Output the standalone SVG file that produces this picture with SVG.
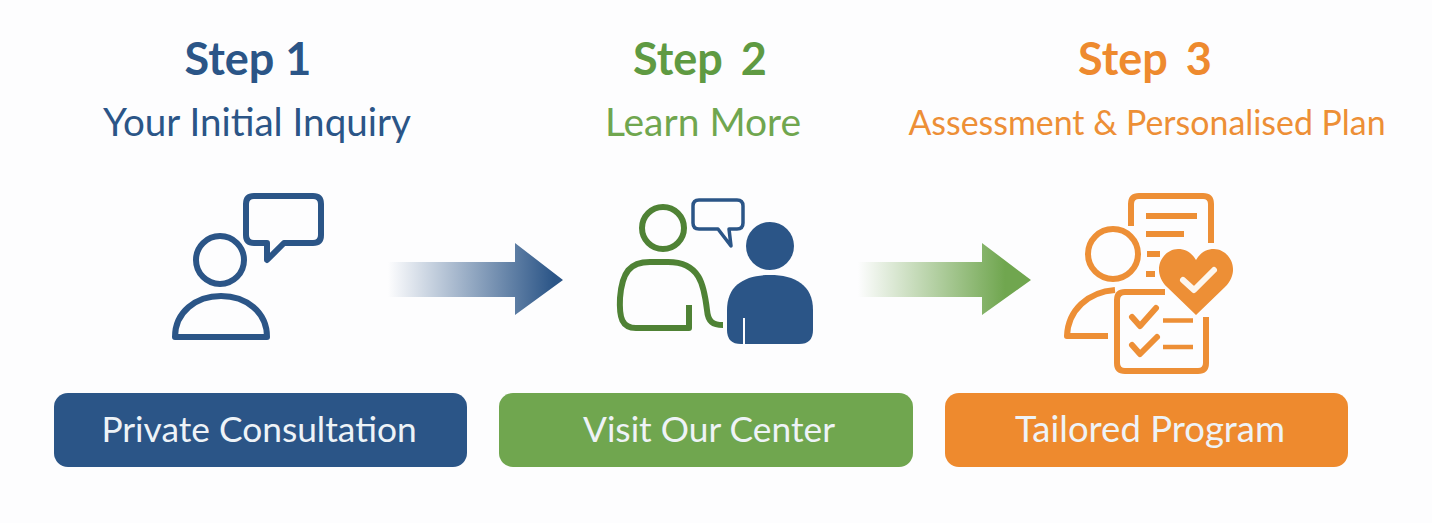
<svg xmlns="http://www.w3.org/2000/svg" width="1432" height="523" viewBox="0 0 1432 523">
<style>
.t{font-family:"Lato","Open Sans",sans-serif;text-anchor:middle}
.s{font-size:45px;font-weight:700}
.u{font-size:38.600px}
.b{font-size:35.300px;fill:#eef3f7}
.ol{fill:none;stroke-linejoin:round;stroke-linecap:round}
.blue{stroke:#2b5587}.green{stroke:#4f8235}.orange{stroke:#ed8f36}
</style>
<defs>
<linearGradient id="g1" gradientUnits="userSpaceOnUse" x1="388" x2="563" y1="0" y2="0"><stop offset="0" stop-color="#2b5587" stop-opacity="0"/><stop offset=".95" stop-color="#2b5587"/></linearGradient>
<linearGradient id="g2" gradientUnits="userSpaceOnUse" x1="858" x2="1031" y1="0" y2="0"><stop offset="0" stop-color="#70a64f" stop-opacity="0"/><stop offset=".85" stop-color="#70a64f"/></linearGradient>
</defs>
<rect width="1432" height="523" fill="#fdfdfe"/>
<g id="connectors">
<path d="M388 262H515V243L563 280L515 315V297H388Z" fill="url(#g1)"/>
<path d="M858 262H982V243L1031 280L982 315V297H858Z" fill="url(#g2)"/>
</g>
<g id="step1">
<text class="t s" x="248" y="75" fill="#2b5587">Step 1</text>
<text class="t u" x="257" y="136" fill="#2b5587">Your Initial Inquiry</text>
<g class="ol blue" stroke-width="6">
<circle cx="220" cy="260" r="24"/>
<path d="M175 337H267C267 312 246 296 221 296C196 296 175 312 175 337Z"/>
<path d="M254 196H313Q321 196 321 204V235Q321 243 313 243H284L267 260V243H254Q246 243 246 235V204Q246 196 254 196Z"/>
</g>
<rect x="54" y="393" width="413" height="74" rx="14" fill="#2b5587"/>
<text class="t b" x="259" y="442">Private Consultation</text>
</g>
<g id="step2">
<text class="t s" x="700" y="75" fill="#5f9a42" word-spacing="7">Step 2</text>
<text class="t u" x="703" y="136" fill="#70a64f" style="font-size:39px">Learn More</text>
<g class="ol green" stroke-width="6">
<circle cx="663" cy="228" r="21"/>
<path stroke-linecap="butt" d="M723 325C713 325 708 322 707 310C704 285 700 262 668 262H650C630 262 622 272 620 298C619 318 622 328 636 328H689V305"/>
</g>
<path class="ol blue" stroke-width="3.500" d="M699 200H737Q743 200 743 206V223Q743 229 737 229H729L731 246L718 229H699Q693 229 693 223V206Q693 200 699 200Z"/>
<circle cx="770" cy="246" r="24" fill="#2b5587"/>
<path d="M727 310C727 285 745 275 770 275C795 275 813 285 813 310V330Q813 344 799 344H741Q727 344 727 330Z" fill="#2b5587"/>
<path d="M744 318V344" stroke="#fdfdfe" stroke-width="2"/>
<rect x="499" y="393" width="414" height="74" rx="14" fill="#70a64f"/>
<text class="t b" x="709" y="442">Visit Our Center</text>
</g>
<g id="step3">
<text class="t s" x="1145" y="75" fill="#ee8a2e" word-spacing="7">Step 3</text>
<text class="t" x="1147" y="135" font-size="33.900" fill="#ed8f36">Assessment &amp; Personalised Plan</text>
<g class="ol orange" stroke-width="6">
<circle cx="1113" cy="254" r="25"/>
<path stroke-linecap="butt" d="M1131 226V204Q1131 196 1139 196H1203Q1211 196 1211 204V243"/>
<path stroke-linecap="butt" d="M1115 290C1088 292 1068 310 1067 336H1108"/>
<path stroke-linecap="butt" d="M1165 292H1125Q1117 292 1117 300V363Q1117 371 1125 371H1198Q1206 371 1206 363V317"/>
</g>
<g fill="none" stroke="#ed8f36" stroke-width="6">
<path d="M1146 216H1197M1146 234H1184M1147 254H1160M1146 274H1155"/>
</g>
<path d="M1196 315L1167 287C1150 270 1163 249 1178 249C1186 249 1192 253 1196 260C1200 253 1206 249 1214 249C1229 249 1242 270 1225 287Z" fill="#ed8f36"/>
<path d="M1183 280L1194 290L1214 270" fill="none" stroke="#fdf6ee" stroke-width="6" stroke-linecap="round" stroke-linejoin="round"/>
<g class="ol orange" stroke-width="6">
<path d="M1132 317L1140 326L1156 308M1132 345L1140 354L1157 337"/>
</g>
<path d="M1163 320.500H1193M1163 347H1193" fill="none" stroke="#ed8f36" stroke-width="4.500"/>
<rect x="945" y="393" width="403" height="74" rx="14" fill="#ee8a2e"/>
<text class="t b" x="1150" y="442" style="font-size:36.500px">Tailored Program</text>
</g>
</svg>
